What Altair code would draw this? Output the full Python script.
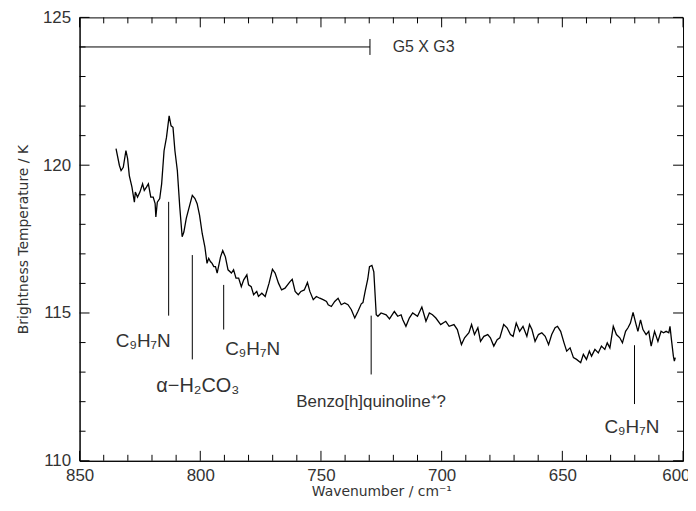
import altair as alt
import pandas as pd

# Spectrum (wavenumber cm^-1, brightness temperature K)
wavenumber = [834.9, 833.5, 832.8, 831.9, 830.8, 830.1, 829.4, 828.3, 827.3, 826.9,
              826.0, 825.0, 823.9, 823.2, 822.3, 821.5, 820.5, 819.5, 818.7, 818.4,
              817.8, 816.8, 816.0, 815.0, 814.0, 812.9, 812.1, 811.3, 810.5, 809.5,
              808.5, 807.5, 806.8, 805.8, 804.4, 803.3, 802.2, 801.3, 800.3, 799.2,
              798.1, 797.2, 796.5, 795.8, 795.1, 794.4, 793.7, 793.0, 791.6, 790.7,
              789.6, 788.5, 787.1, 786.2, 785.2, 784.1, 783.0, 782.0, 780.7, 780.0,
              778.9, 777.9, 776.6, 775.9, 774.5, 773.1, 771.5, 770.1, 769.0, 767.6,
              766.3, 764.9, 762.8, 761.9, 760.7, 759.4, 758.3, 756.9, 755.6, 754.6,
              753.2, 751.9, 750.5, 749.1, 747.7, 747.0, 745.7, 744.3, 742.9, 741.6,
              740.2, 738.8, 737.4, 736.0, 734.7, 733.3, 732.6, 731.7, 730.6, 729.9,
              728.9, 728.1, 727.1, 726.4, 725.1, 723.0, 721.6, 719.6, 718.2, 716.8,
              716.1, 714.8, 713.4, 712.0, 710.0, 708.2, 706.5, 705.1, 703.8, 702.4,
              700.4, 698.3, 696.9, 694.9, 693.5, 691.8, 690.5, 688.7, 687.6, 686.4,
              685.0, 683.9, 682.5, 680.9, 679.8, 678.4, 677.0, 675.9, 674.3, 672.9,
              671.5, 670.4, 669.1, 667.7, 666.3, 664.7, 663.6, 662.6, 661.3, 659.9,
              658.5, 657.1, 655.7, 654.4, 653.0, 652.0, 650.7, 649.3, 648.2, 646.8,
              645.4, 644.1, 642.4, 641.3, 640.0, 638.8, 637.9, 636.5, 635.1, 633.8,
              632.4, 631.4, 630.3, 628.9, 627.6, 626.2, 625.1, 623.8, 622.8, 621.8,
              620.7, 619.6, 618.7, 617.6, 616.6, 615.3, 614.2, 613.2, 611.8, 610.4,
              609.1, 608.1, 607.0, 605.9, 605.4, 604.8, 604.0, 603.6, 603.2]
temperature = [120.56, 119.99, 119.82, 119.93, 120.49, 120.22, 119.65, 119.26, 118.75, 119.09,
               118.92, 119.09, 119.37, 119.15, 119.26, 119.37, 118.92, 118.92, 118.70, 118.25,
               118.75, 118.87, 119.37, 120.49, 120.94, 121.67, 121.33, 121.28, 120.49, 119.82,
               118.59, 117.58, 117.74, 118.20, 118.64, 118.98, 118.87, 118.70, 118.31, 117.69,
               117.24, 116.68, 116.85, 116.74, 116.68, 116.57, 116.57, 116.35, 116.90, 117.11,
               116.90, 116.46, 116.35, 116.46, 116.18, 116.18, 115.89, 116.12, 116.29, 115.95,
               115.89, 115.62, 115.73, 115.56, 115.67, 115.56, 116.01, 116.48, 116.35, 116.01,
               115.78, 115.84, 116.06, 116.14, 115.73, 115.62, 115.73, 115.78, 116.03, 115.73,
               115.45, 115.56, 115.50, 115.45, 115.39, 115.28, 115.22, 115.39, 115.50, 115.28,
               115.34, 115.28, 115.11, 114.83, 115.05, 115.31, 115.35, 115.73, 116.15, 116.57,
               116.61, 116.39, 114.94, 114.89, 115.00, 114.94, 114.80, 115.05, 114.89, 114.94,
               114.77, 114.55, 114.83, 115.00, 114.89, 115.20, 114.72, 115.00, 114.94, 114.83,
               114.61, 114.72, 114.55, 114.61, 114.44, 113.93, 114.16, 114.33, 114.61, 114.27,
               114.50, 114.04, 114.21, 114.27, 114.16, 113.88, 114.10, 114.16, 114.61, 114.50,
               114.27, 114.21, 114.66, 114.38, 114.55, 114.21, 114.61, 114.44, 114.04, 114.27,
               114.33, 114.21, 113.93, 114.27, 114.50, 114.55, 114.38, 113.99, 113.71, 113.82,
               113.49, 113.43, 113.32, 113.60, 113.43, 113.71, 113.54, 113.77, 113.65, 113.88,
               113.77, 113.99, 113.82, 114.55, 114.27, 114.16, 113.99, 114.38, 114.50, 114.66,
               115.02, 114.66, 114.38, 114.77, 114.44, 114.27, 114.38, 113.88, 114.38, 114.04,
               114.38, 114.33, 114.38, 114.33, 114.55, 114.10, 113.54, 113.37, 113.49]

# Axis ticks
x_major = [850, 800, 750, 700, 650, 600]
x_minor = [840, 830, 820, 810, 790, 780, 770, 760, 740, 730, 720, 710,
           690, 680, 670, 660, 640, 630, 620, 610]
y_major = [110, 115, 120, 125]
y_minor = [111, 112, 113, 114, 116, 117, 118, 119, 121, 122, 123, 124]

# Line-identification markers
mark_x = [813.1, 803.3, 790.3, 729.2, 620.1]
mark_top = [118.76, 116.96, 115.95, 114.91, 113.91]
mark_bottom = [114.91, 113.43, 114.44, 112.92, 111.92]

label_text = ["C₉H₇N", "α−H₂CO₃", "C₉H₇N", "Benzo[h]quinoline⁺?", "C₉H₇N"]
label_x = [823.6, 801.0, 778.3, 729.2, 621.2]
label_y = [114.04, 112.53, 113.77, 111.98, 111.13]
label_size = [19, 20, 19, 17, 19]

# Scan range bar
bar_start = [850.0]
bar_end = [729.7]
bar_y = [124.0]
bar_cap_lo = [123.73]
bar_cap_hi = [124.27]
bar_label = ["G5  X  G3"]
bar_label_x = [720.3]

W, H = 607, 446
FONT = "Liberation Sans"
TFONT = "DejaVu Sans"
TXT = "#333333"

xs = alt.Scale(domain=[600, 850], reverse=True, nice=False, zero=False)
ys = alt.Scale(domain=[110, 125], nice=False, zero=False)

XAX = alt.Axis(values=x_major, format="d", ticks=False, grid=False, labelFlush=False,
               labelAlign={"condition": {"test": "datum.value == 600", "value": "right"},
                           "value": "center"},
               labelOffset={"condition": {"test": "datum.value == 600", "value": 7},
                            "value": 0},
               labelPadding=7, title="Wavenumber / cm⁻¹", titlePadding=1)
YAX = alt.Axis(values=y_major, format="d", ticks=False, grid=False, labelFlush=False,
               labelPadding=9, title="Brightness Temperature / K", titlePadding=12)


def X(f):
    return alt.X(f, scale=xs, axis=XAX)


def Y(f):
    return alt.Y(f, scale=ys, axis=YAX)


spec = pd.DataFrame({"w": wavenumber, "t": temperature})

line = alt.Chart(spec).mark_line(color="black", strokeWidth=1.3).encode(
    x=X("w:Q"), y=Y("t:Q"))


def xticks(vals, length):
    df = pd.DataFrame({"v": vals})
    b = alt.Chart(df).mark_rule(color="black", strokeWidth=1).encode(
        x=X("v:Q"), y=alt.value(H), y2=alt.value(H - length))
    t = alt.Chart(df).mark_rule(color="black", strokeWidth=1).encode(
        x=X("v:Q"), y=alt.value(0), y2=alt.value(length))
    return [b, t]


def yticks(vals, length):
    df = pd.DataFrame({"v": vals})
    l = alt.Chart(df).mark_rule(color="black", strokeWidth=1).encode(
        y=Y("v:Q"), x=alt.value(0), x2=alt.value(length))
    r = alt.Chart(df).mark_rule(color="black", strokeWidth=1).encode(
        y=Y("v:Q"), x=alt.value(W), x2=alt.value(W - length))
    return [l, r]


ticks = xticks(x_major, 10) + xticks(x_minor, 6) + yticks(y_major, 10) + yticks(y_minor, 6)

mk = pd.DataFrame({"x": mark_x, "y1": mark_top, "y2": mark_bottom})
markers = alt.Chart(mk).mark_rule(color="black", strokeWidth=1).encode(
    x=X("x:Q"), y=Y("y1:Q"), y2="y2:Q")

lb = pd.DataFrame({"x": label_x, "y": label_y, "text": label_text, "s": label_size})
labels = alt.Chart(lb).mark_text(font=FONT, color=TXT, align="center",
                                 baseline="middle").encode(
    x=X("x:Q"), y=Y("y:Q"), text="text:N",
    size=alt.Size("s:Q", scale=None, legend=None))

bar = pd.DataFrame({"x1": bar_start, "x2": bar_end, "y": bar_y,
                    "lo": bar_cap_lo, "hi": bar_cap_hi,
                    "lx": bar_label_x, "text": bar_label})
bar_line = alt.Chart(bar).mark_rule(color="black", strokeWidth=1).encode(
    x=X("x1:Q"), x2="x2:Q", y=Y("y:Q"))
bar_cap = alt.Chart(bar).mark_rule(color="black", strokeWidth=1).encode(
    x=X("x2:Q"), y=Y("lo:Q"), y2="hi:Q")
bar_text = alt.Chart(bar).mark_text(font=FONT, color=TXT, fontSize=16,
                                    align="left", baseline="middle").encode(
    x=X("lx:Q"), y=Y("y:Q"), text="text:N")

chart = alt.layer(line, *ticks, markers, labels, bar_line, bar_cap, bar_text).properties(
    width=W, height=H,
    autosize=alt.AutoSizeParams(type="none"),
    padding={"left": 72, "top": 8, "right": 5, "bottom": 40},
).configure_view(stroke="black", strokeWidth=1).configure_axis(
    domainColor="black", domainWidth=1,
    labelFont=FONT, labelFontSize=17, labelColor=TXT,
    titleFont=TFONT, titleFontSize=14, titleFontWeight="normal", titleColor=TXT,
)

chart.save("out.html", embed_options={"renderer": "svg", "actions": False})
